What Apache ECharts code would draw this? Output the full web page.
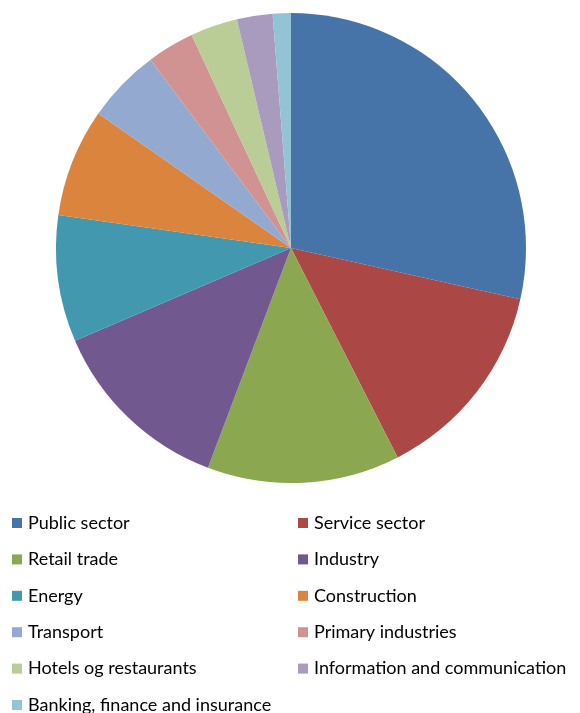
<!DOCTYPE html>
<html>
<head>
<meta charset="utf-8">
<script src="https://cdn.jsdelivr.net/npm/echarts@6/dist/echarts.min.js"></script>
<style>
html,body{margin:0;padding:0;background:#fff;}
#c{width:580px;height:713px;}
</style>
</head>
<body>
<div id="c"></div>
<script>
const categories = ["Public sector","Service sector","Retail trade","Industry","Energy","Construction","Transport","Primary industries","Hotels og restaurants","Information and communication","Banking, finance and insurance"];
const values = [28.5, 14.0, 13.25, 12.8, 8.7, 7.45, 5.1, 3.25, 3.25, 2.45, 1.25];
const colors = ["#4674A8","#AB4745","#8BA750","#71598F","#4198AF","#DB843D","#93A9CF","#D09392","#BACD96","#A99BBD","#93C4D5"];
const leftLegend = ["Public sector","Retail trade","Energy","Transport","Hotels og restaurants","Banking, finance and insurance"];
const rightLegend = ["Service sector","Industry","Construction","Primary industries","Information and communication"];

const chart = echarts.init(document.getElementById('c'), null, {renderer:'canvas'});
const legendBase = {
  type:'plain',
  orient:'vertical',
  top: 513,
  height: 400,
  itemWidth: 10,
  itemHeight: 10,
  itemGap: 16.4,
  icon: 'rect',
  textStyle: {fontFamily:'Lato', fontSize:18, color:'#000', lineHeight:20, padding:[0,0,0,1]},
  padding: 0
};
chart.setOption({
  animation:false,
  color: colors,
  legend: [
    Object.assign({}, legendBase, {left: 12, data: leftLegend}),
    Object.assign({}, legendBase, {left: 298, data: rightLegend})
  ],
  series: [{
    type:'pie',
    center:[291,248],
    radius:235,
    startAngle:90,
    clockwise:true,
    label:{show:false},
    labelLine:{show:false},
    emphasis:{disabled:true},
    itemStyle:{borderWidth:0},
    data: categories.map((n,i)=>({name:n, value:values[i]}))
  }]
});
</script>
</body>
</html>
